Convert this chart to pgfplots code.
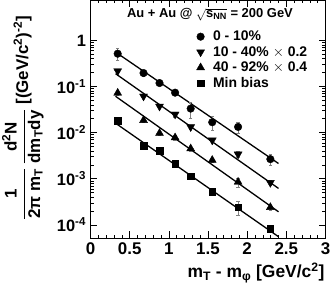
\documentclass[border=0pt]{standalone}
\usepackage{fontspec}
\setmainfont{Liberation Sans}
\usepackage{amsmath}
\usepackage{pgfplots}
\pgfplotsset{compat=1.18}
\begin{document}
\bfseries
\begin{tikzpicture}
\begin{axis}[
  name=ax, at={(0,0)}, anchor=south west,
  scale only axis, width=235bp, height=238bp,
  ymode=log, xmin=0, xmax=3, ymin=5.18e-5, ymax=7.53,
  xtick={0,0.5,1,1.5,2,2.5,3}, minor x tick num=4,
  ytick={1e-4,1e-3,1e-2,1e-1,1},
  yticklabels={10\textsuperscript{-4},10\textsuperscript{-3},10\textsuperscript{-2},10\textsuperscript{-1},1},
  tick align=inside, major tick length=7bp, minor tick length=3.5bp,
  every tick/.style={black, line width=0.6bp},
  axis line style={line width=0.8bp},
  /pgf/number format/assume math mode=true,
  xticklabel style={font=\fontsize{17}{17}\selectfont\bfseries, yshift=-1bp},
  yticklabel style={font=\fontsize{16.5}{16.5}\selectfont\bfseries, xshift=-1bp},
  clip=false,
  legend style={at={(axis description cs:0.438,0.885)}, anchor=north west, draw=none, fill=none,
    font=\fontsize{14}{14}\selectfont\bfseries, row sep=1.2bp,
    nodes={inner sep=1.5bp},
    /tikz/every odd column/.append style={column sep=7bp}},
  legend cell align=left,
  legend image code/.code={\draw[#1] plot coordinates {(0.2cm,0cm)};},
  error bars/y dir=both, error bars/y explicit,
  error bars/error bar style={gray, line width=0.5bp},
  error bars/error mark options={rotate=90, gray, mark size=1.6bp, line width=0.5bp},
]
% fit lines
\addplot[black, line width=1.3bp, forget plot, no markers] coordinates {(0.32,0.558) (2.40,0.00214)};
\addplot[black, line width=1.3bp, forget plot, no markers] coordinates {(0.32,0.190) (2.40,6.17e-4)};
\addplot[black, line width=1.3bp, forget plot, no markers] coordinates {(0.32,0.0614) (2.40,1.92e-4)};
\addplot[black, line width=1.3bp, forget plot, no markers] coordinates {(0.32,0.0160) (2.40,5.53e-5)};
% data
\addplot[only marks, mark=*, mark size=3.8bp, black] table[y error index=2] {
0.347 0.515 0.15
0.677 0.196 0.025
0.881 0.119 0.012
1.080 0.0736 0.009
1.279 0.0332 0.013
1.554 0.0168 0.0057
1.884 0.0133 0.0037
2.296 0.00266 0.0007
};
\addlegendentry{0 - 10\%}
\addplot[only marks, mark=triangle*, mark size=4.6bp, black, mark options={rotate=180}] table[y error index=2] {
0.347 0.217 0.02
0.677 0.0614 0.006
0.881 0.0372 0.004
1.080 0.0250 0.003
1.279 0.0133 0.0015
1.554 0.00684 0.0008
1.884 0.0034 0.0005
2.296 0.00082 0.0001
};
\addlegendentry{10 - 40\% $\times$ 0.2}
\addplot[only marks, mark=triangle*, mark size=4.6bp, black] table[y error index=2] {
0.347 0.0724 0.008
0.677 0.0185 0.002
0.881 0.0097 0.001
1.080 0.0078 0.0009
1.279 0.0045 0.0005
1.554 0.00253 0.0003
1.884 0.00085 0.0002
2.296 0.00024 0.00003
};
\addlegendentry{40 - 92\% $\times$ 0.4}
\addplot[only marks, mark=square*, mark size=3.3bp, black] table[y error index=2] {
0.347 0.0179 0.002
0.677 0.00525 0.0005
0.881 0.00402 0.0004
1.080 0.00214 0.0002
1.279 0.00114 0.00018
1.554 0.00052 0.00005
1.884 0.00024 0.00008
2.296 0.000083 0.00001
};
\addlegendentry{Min bias}
\node[anchor=base, font=\fontsize{13}{13}\selectfont\bfseries] at (axis description cs:0.5085,0.925)
  {Au + Au @ $\sqrt{\text{s\textsubscript{NN}}}$ = 200 GeV};
\node[rotate=90, anchor=center, font=\fontsize{17}{17}\selectfont\bfseries] at (axis description cs:-0.288,0.505)
  {$\displaystyle\frac{\text{1}}{\text{2π m\textsubscript{T}}}\,\frac{\text{d\textsuperscript{2}N}}{\text{dm\textsubscript{T}dy}}$ [(GeV/c\textsuperscript{2})\textsuperscript{-2}]};
\node[anchor=base east, font=\fontsize{17.5}{17.5}\selectfont\bfseries] at (axis description cs:1.0106,-0.168)
  {m\textsubscript{T} - m\textsubscript{φ} [GeV/c\textsuperscript{2}]};
\end{axis}
\pgfresetboundingbox
\useasboundingbox (-90.5bp,-61bp) rectangle (241.5bp,238bp);
\end{tikzpicture}
\end{document}
